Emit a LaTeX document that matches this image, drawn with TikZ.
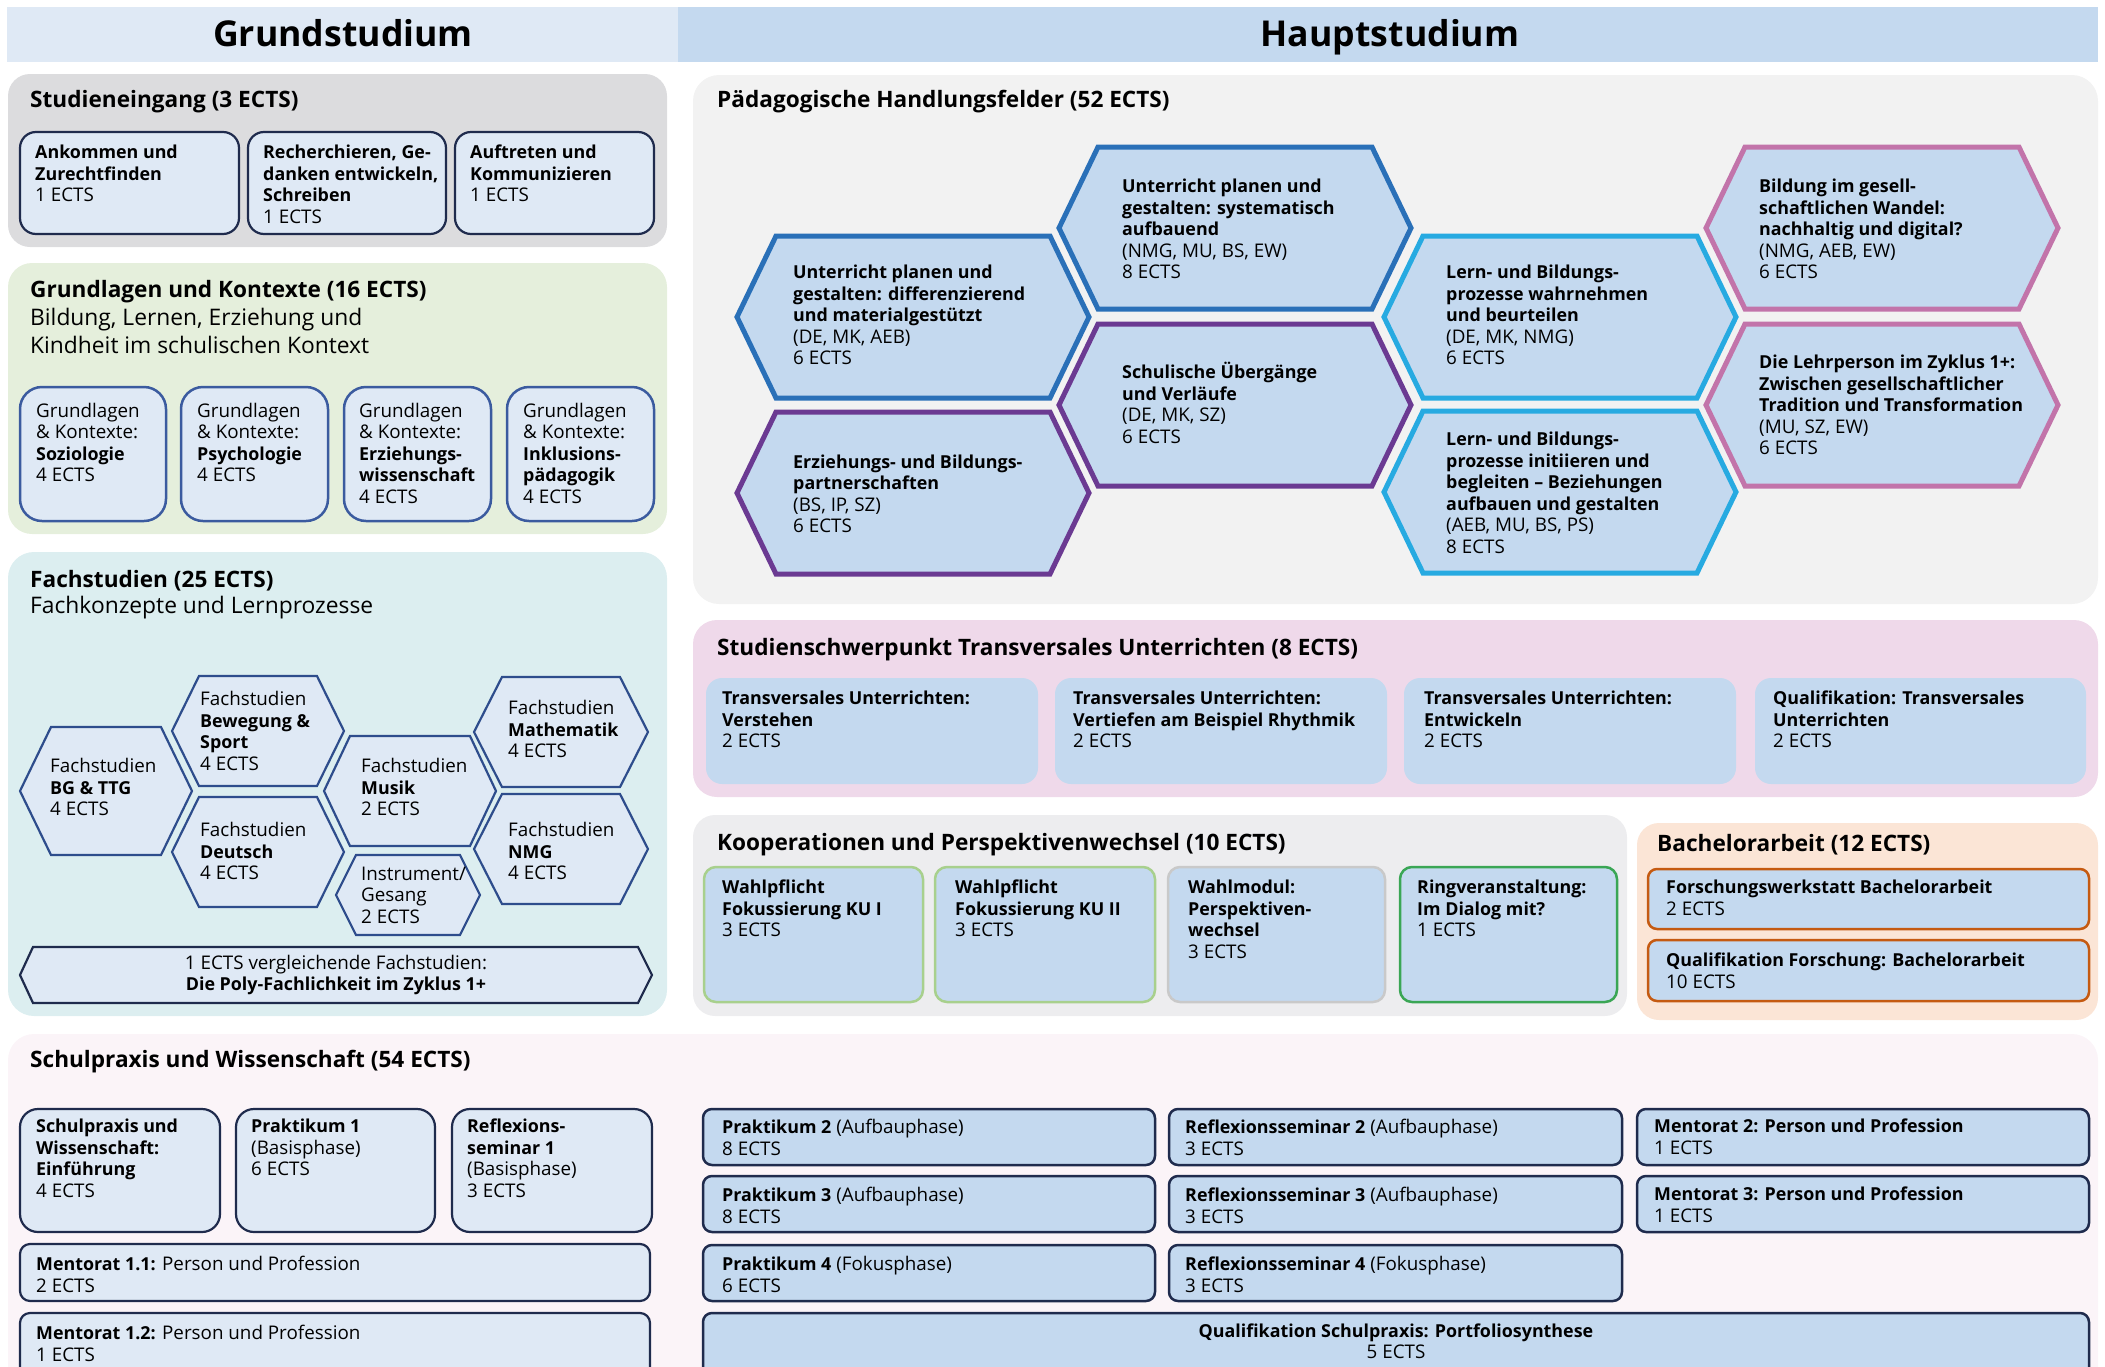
\documentclass[tikz,border=0pt]{standalone}
\usepackage{fontspec}
\setmainfont{Open Sans}[BoldFeatures={Scale=0.95}]
\usetikzlibrary{positioning}

\definecolor{grundblau}{HTML}{DFE9F5}
\definecolor{hauptblau}{HTML}{C4D9EF}
\definecolor{navy}{HTML}{1F2B4D}
\definecolor{mittelblau}{HTML}{3B5B9F}
\definecolor{hexnavy}{HTML}{2E4D8C}
\definecolor{eingangsgrau}{HTML}{DCDCDE}
\definecolor{gruenhell}{HTML}{E5EFDC}
\definecolor{tuerkis}{HTML}{DCEEF0}
\definecolor{hellgrau}{HTML}{F2F2F2}
\definecolor{mauve}{HTML}{EFD9EA}
\definecolor{koopgrau}{HTML}{EDEDEF}
\definecolor{pfirsich}{HTML}{FBE5D6}
\definecolor{rosa}{HTML}{FBF4F8}
\definecolor{rahmblau}{HTML}{2A70B8}
\definecolor{lila}{HTML}{6B3A92}
\definecolor{himmel}{HTML}{27AAE1}
\definecolor{altrosa}{HTML}{C274AA}
\definecolor{gruenA}{HTML}{A8D08D}
\definecolor{gruenB}{HTML}{3AA655}
\definecolor{grauR}{HTML}{C9C9C9}
\definecolor{rost}{HTML}{C55A11}

% Sechseck: x, y, halbe Breite, halbe Breite oben, halbe Hoehe
\newcommand{\sechseck}[5]{({#1-#3},{#2}) -- ({#1-#4},{#2-#5}) -- ({#1+#4},{#2-#5}) -- ({#1+#3},{#2}) -- ({#1+#4},{#2+#5}) -- ({#1-#4},{#2+#5}) -- cycle}

\begin{document}
\begin{tikzpicture}[x=1pt, y=-1pt,
  txt/.style={font=\fontsize{18.8}{21.5}\selectfont, align=left, inner sep=0pt},
  titel/.style={font=\fontsize{23.8}{28}\selectfont\bfseries, anchor=base west, inner sep=0pt},
  untertitel/.style={font=\fontsize{22.8}{28}\selectfont, align=left, inner sep=0pt},
  kopf/.style={font=\fontsize{37.5}{42}\selectfont\bfseries, anchor=base, inner sep=0pt},
  kasten/.style={fill=grundblau, draw=navy, line width=2.2pt, rounded corners=16},
  kastenB/.style={fill=grundblau, draw=mittelblau, line width=2.5pt, rounded corners=22},
  fachhex/.style={fill=grundblau, draw=hexnavy, line width=2.2pt, line join=miter},
  feldhex/.style={fill=hauptblau, line width=5pt, line join=miter},
  koopkasten/.style={fill=hauptblau, line width=2.5pt, rounded corners=12},
  praxiskasten/.style={fill=hauptblau, draw=navy, line width=2.5pt, rounded corners=9}]

\useasboundingbox (0,0) rectangle (2105,1366);

%%% Kopf
\fill[grundblau] (7,7) rectangle (678,62);
\fill[hauptblau] (678,7) rectangle (2098,62);
\node[kopf] (grund) at (343,46) {Grundstudium};
\node[kopf] (haupt) at (1390,46) {Hauptstudium};

%% Studieneingang
\fill[eingangsgrau, rounded corners=22] (8,74) rectangle (667,247);
\node[titel] (eingang) at (30,107) {Studieneingang (3 ECTS)};
\draw[kasten] (20,132) rectangle (239,234);
\draw[kasten] (248,132) rectangle (446,234);
\draw[kasten] (455,132) rectangle (654,234);
\node[txt, anchor=north west] (ankommen) at (35,145) {\textbf{Ankommen und}\\\textbf{Zurechtfinden}\\1 ECTS};
\node[txt, anchor=north west] (recherche) at (263,145) {\textbf{Recherchieren, Ge-}\\\textbf{danken entwickeln,}\\\textbf{Schreiben}\\1 ECTS};
\node[txt, anchor=north west] (auftreten) at (470,145) {\textbf{Auftreten und}\\\textbf{Kommunizieren}\\1 ECTS};

%% Grundlagen und Kontexte
\fill[gruenhell, rounded corners=24] (8,263) rectangle (667,534);
\node[titel] (grundlagen) at (30,297) {Grundlagen und Kontexte (16 ECTS)};
\node[untertitel, anchor=north west] (bildung) at (30,308) {Bildung, Lernen, Erziehung und\\Kindheit im schulischen Kontext};
\draw[kastenB] (20,387) rectangle (166,521);
\draw[kastenB] (181,387) rectangle (328,521);
\draw[kastenB] (344,387) rectangle (491,521);
\draw[kastenB] (507,387) rectangle (654,521);
\node[txt, anchor=north west] (soziologie) at (36,403) {Grundlagen\\\& Kontexte:\\\textbf{Soziologie}\\4 ECTS};
\node[txt, anchor=north west] (psychologie) at (197,403) {Grundlagen\\\& Kontexte:\\\textbf{Psychologie}\\4 ECTS};
\node[txt, anchor=north west] (erziehung) at (359,403) {Grundlagen\\\& Kontexte:\\\textbf{Erziehungs-}\\\textbf{wissenschaft}\\4 ECTS};
\node[txt, anchor=north west] (inklusion) at (523,403) {Grundlagen\\\& Kontexte:\\\textbf{Inklusions-}\\\textbf{pädagogik}\\4 ECTS};

%% Fachstudien
\fill[tuerkis, rounded corners=26] (8,552) rectangle (667,1016);
\node[titel] (fach) at (30,587) {Fachstudien (25 ECTS)};
\node[untertitel, anchor=west] (fachkonzepte) at (30,608) {Fachkonzepte und Lernprozesse};

\draw[fachhex] \sechseck{106}{791}{86}{55}{64};
\draw[fachhex] \sechseck{258}{731}{86}{59}{55};
\draw[fachhex] \sechseck{258}{852}{86}{59}{55};
\draw[fachhex] \sechseck{410}{791}{86}{60}{55};
\draw[fachhex] \sechseck{408}{895}{72}{52}{40};
\draw[fachhex] \sechseck{561}{732}{87}{59}{55};
\draw[fachhex] \sechseck{561}{849}{87}{59}{55};
\node[txt, anchor=west] (bgttg) at (50,787) {Fachstudien\\\textbf{BG \& TTG}\\4 ECTS};
\node[txt, anchor=west] (bewegung) at (200,731) {Fachstudien\\\textbf{Bewegung \&}\\\textbf{Sport}\\4 ECTS};
\node[txt, anchor=west] (deutsch) at (200,851) {Fachstudien\\\textbf{Deutsch}\\4 ECTS};
\node[txt, anchor=west] (musik) at (361,787) {Fachstudien\\\textbf{Musik}\\2 ECTS};
\node[txt, anchor=west] (instrument) at (361,895) {Instrument/\\Gesang\\2 ECTS};
\node[txt, anchor=west] (mathe) at (508,729) {Fachstudien\\\textbf{Mathematik}\\4 ECTS};
\node[txt, anchor=west] (nmg) at (508,851) {Fachstudien\\\textbf{NMG}\\4 ECTS};

% vergleichende Fachstudien
\draw[fachhex, draw=navy] (20,975) -- (33,947) -- (638,947) -- (652,975) -- (638,1003) -- (33,1003) -- cycle;
\node[txt, align=center] (poly) at (336,975) {1 ECTS vergleichende Fachstudien:\\\textbf{Die Poly-Fachlichkeit im Zyklus 1+}};

%% Paedagogische Handlungsfelder
\fill[hellgrau, rounded corners=26] (693,75) rectangle (2098,604);
\node[titel] (paed) at (717,107) {Pädagogische Handlungsfelder (52 ECTS)};

\draw[feldhex, draw=rahmblau] \sechseck{913}{317}{176}{137}{81};
\draw[feldhex, draw=rahmblau] \sechseck{1235}{228}{176}{137}{81};
\draw[feldhex, draw=lila] \sechseck{1235}{405}{176}{137}{81};
\draw[feldhex, draw=lila] \sechseck{913}{493}{176}{137}{81};
\draw[feldhex, draw=himmel] \sechseck{1560}{317}{176}{137}{81};
\draw[feldhex, draw=himmel] \sechseck{1560}{492}{176}{137}{81};
\draw[feldhex, draw=altrosa] \sechseck{1882}{228}{176}{137}{81};
\draw[feldhex, draw=altrosa] \sechseck{1882}{405}{176}{137}{81};

\node[txt, anchor=west] (differenzierend) at (793,315) {\textbf{Unterricht planen und}\\\textbf{gestalten: differenzierend}\\\textbf{und materialgestützt}\\(DE, MK, AEB)\\6 ECTS};
\node[txt, anchor=west] (systematisch) at (1122,229) {\textbf{Unterricht planen und}\\\textbf{gestalten: systematisch}\\\textbf{aufbauend}\\(NMG, MU, BS, EW)\\8 ECTS};
\node[txt, anchor=west] (uebergaenge) at (1122,403) {\textbf{Schulische Übergänge}\\\textbf{und Verläufe}\\(DE, MK, SZ)\\6 ECTS};
\node[txt, anchor=west] (partnerschaft) at (793,494) {\textbf{Erziehungs- und Bildungs-}\\\textbf{partnerschaften}\\(BS, IP, SZ)\\6 ECTS};
\node[txt, anchor=west] (wahrnehmen) at (1446,315) {\textbf{Lern- und Bildungs-}\\\textbf{prozesse wahrnehmen}\\\textbf{und beurteilen}\\(DE, MK, NMG)\\6 ECTS};
\node[txt, anchor=west] (initiieren) at (1446,493) {\textbf{Lern- und Bildungs-}\\\textbf{prozesse initiieren und}\\\textbf{begleiten – Beziehungen}\\\textbf{aufbauen und gestalten}\\(AEB, MU, BS, PS)\\8 ECTS};
\node[txt, anchor=west] (wandel) at (1759,229) {\textbf{Bildung im gesell-}\\\textbf{schaftlichen Wandel:}\\\textbf{nachhaltig und digital?}\\(NMG, AEB, EW)\\6 ECTS};
\node[txt, anchor=west] (lehrperson) at (1759,405) {\textbf{Die Lehrperson im Zyklus 1+:}\\\textbf{Zwischen gesellschaftlicher}\\\textbf{Tradition und Transformation}\\(MU, SZ, EW)\\6 ECTS};

%% Studienschwerpunkt
\fill[mauve, rounded corners=24] (693,620) rectangle (2098,797);
\node[titel] (schwerpunkt) at (717,655) {Studienschwerpunkt Transversales Unterrichten (8 ECTS)};
\fill[hauptblau, rounded corners=16] (706,678) rectangle (1038,784);
\fill[hauptblau, rounded corners=16] (1055,678) rectangle (1387,784);
\fill[hauptblau, rounded corners=16] (1404,678) rectangle (1736,784);
\fill[hauptblau, rounded corners=16] (1755,678) rectangle (2086,784);
\node[txt, anchor=north west] (verstehen) at (722,691) {\textbf{Transversales Unterrichten:}\\\textbf{Verstehen}\\2 ECTS};
\node[txt, anchor=north west] (vertiefen) at (1073,691) {\textbf{Transversales Unterrichten:}\\\textbf{Vertiefen am Beispiel Rhythmik}\\2 ECTS};
\node[txt, anchor=north west] (entwickeln) at (1424,691) {\textbf{Transversales Unterrichten:}\\\textbf{Entwickeln}\\2 ECTS};
\node[txt, anchor=north west] (qualitrans) at (1773,691) {\textbf{Qualifikation: Transversales}\\\textbf{Unterrichten}\\2 ECTS};

%% Kooperationen
\fill[koopgrau, rounded corners=22] (693,815) rectangle (1627,1016);
\node[titel] (koop) at (717,850) {Kooperationen und Perspektivenwechsel (10 ECTS)};
\draw[koopkasten, draw=gruenA] (704,867) rectangle (923,1002);
\draw[koopkasten, draw=gruenA] (935,867) rectangle (1155,1002);
\draw[koopkasten, draw=grauR] (1168,867) rectangle (1385,1002);
\draw[koopkasten, draw=gruenB] (1400,867) rectangle (1617,1002);
\node[txt, anchor=north west] (kuA) at (722,880) {\textbf{Wahlpflicht}\\\textbf{Fokussierung KU I}\\3 ECTS};
\node[txt, anchor=north west] (kuB) at (955,880) {\textbf{Wahlpflicht}\\\textbf{Fokussierung KU II}\\3 ECTS};
\node[txt, anchor=north west] (wahlmodul) at (1188,880) {\textbf{Wahlmodul:}\\\textbf{Perspektiven-}\\\textbf{wechsel}\\3 ECTS};
\node[txt, anchor=north west] (ring) at (1417,880) {\textbf{Ringveranstaltung:}\\\textbf{Im Dialog mit?}\\1 ECTS};

%% Bachelorarbeit
\fill[pfirsich, rounded corners=22] (1637,823) rectangle (2098,1020);
\node[titel] (bachelor) at (1657,851) {Bachelorarbeit (12 ECTS)};
\draw[koopkasten, draw=rost, rounded corners=9] (1648,869) rectangle (2089,929);
\draw[koopkasten, draw=rost, rounded corners=9] (1648,940) rectangle (2089,1001);
\node[txt, anchor=north west] (werkstatt) at (1666,880) {\textbf{Forschungswerkstatt Bachelorarbeit}\\2 ECTS};
\node[txt, anchor=north west] (forschung) at (1666,953) {\textbf{Qualifikation Forschung: Bachelorarbeit}\\10 ECTS};

%% Schulpraxis und Wissenschaft
\fill[rosa, rounded corners=26] (8,1034) rectangle (2098,1420);
\node[titel] (schulpraxis) at (30,1067) {Schulpraxis und Wissenschaft (54 ECTS)};

% Grundstudium
\draw[kasten, rounded corners=18] (20,1109) rectangle (220,1232);
\draw[kasten, rounded corners=18] (236,1109) rectangle (435,1232);
\draw[kasten, rounded corners=18] (452,1109) rectangle (652,1232);
\draw[kasten, rounded corners=10] (20,1244) rectangle (650,1301);
\draw[kasten, rounded corners=10] (20,1313) rectangle (650,1420);
\node[txt, anchor=north west] (einfuehrung) at (36,1119) {\textbf{Schulpraxis und}\\\textbf{Wissenschaft:}\\\textbf{Einführung}\\4 ECTS};
\node[txt, anchor=north west] (praktikumA) at (251,1119) {\textbf{Praktikum 1}\\(Basisphase)\\6 ECTS};
\node[txt, anchor=north west] (reflexionA) at (467,1119) {\textbf{Reflexions-}\\\textbf{seminar 1}\\(Basisphase)\\3 ECTS};
\node[txt, anchor=north west] (mentoratA) at (36,1256) {\textbf{Mentorat 1.1:} Person und Profession\\2 ECTS};
\node[txt, anchor=north west] (mentoratB) at (36,1325) {\textbf{Mentorat 1.2:} Person und Profession\\1 ECTS};

% Hauptstudium
\draw[praxiskasten] (703,1109) rectangle (1155,1165);
\draw[praxiskasten] (1169,1109) rectangle (1622,1165);
\draw[praxiskasten] (1637,1109) rectangle (2089,1165);
\draw[praxiskasten] (703,1176) rectangle (1155,1232);
\draw[praxiskasten] (1169,1176) rectangle (1622,1232);
\draw[praxiskasten] (1637,1176) rectangle (2089,1232);
\draw[praxiskasten] (703,1245) rectangle (1155,1301);
\draw[praxiskasten] (1169,1245) rectangle (1622,1301);
\draw[praxiskasten] (703,1313) rectangle (2089,1420);

\node[txt, anchor=north west] (praktikumB) at (722,1119) {\textbf{Praktikum 2} (Aufbauphase)\\8 ECTS};
\node[txt, anchor=north west] (reflexionB) at (1185,1119) {\textbf{Reflexionsseminar 2} (Aufbauphase)\\3 ECTS};
\node[txt, anchor=north west] (mentoratC) at (1654,1119) {\textbf{Mentorat 2: Person und Profession}\\1 ECTS};
\node[txt, anchor=north west] (praktikumC) at (722,1187) {\textbf{Praktikum 3} (Aufbauphase)\\8 ECTS};
\node[txt, anchor=north west] (reflexionC) at (1185,1187) {\textbf{Reflexionsseminar 3} (Aufbauphase)\\3 ECTS};
\node[txt, anchor=north west] (mentoratD) at (1654,1187) {\textbf{Mentorat 3: Person und Profession}\\1 ECTS};
\node[txt, anchor=north west] (praktikumD) at (722,1256) {\textbf{Praktikum 4} (Fokusphase)\\6 ECTS};
\node[txt, anchor=north west] (reflexionD) at (1185,1256) {\textbf{Reflexionsseminar 4} (Fokusphase)\\3 ECTS};
\node[txt, align=center] (portfolio) at (1396,1341) {\textbf{Qualifikation Schulpraxis: Portfoliosynthese}\\5 ECTS};

\end{tikzpicture}
\end{document}
